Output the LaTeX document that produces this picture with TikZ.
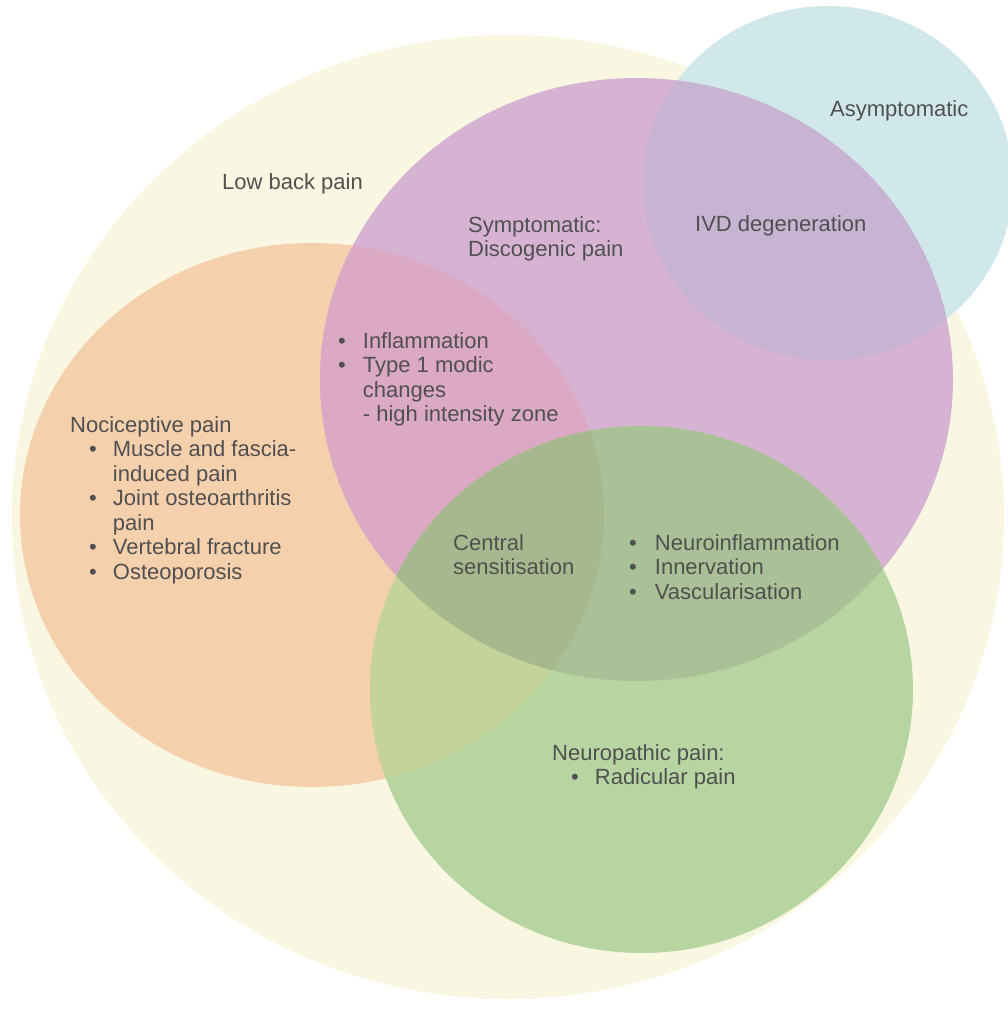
\documentclass[tikz,border=0pt]{standalone}
\usepackage{fontspec}
\setmainfont{Liberation Sans}
\usepackage{xcolor}
\usepackage{tikz}

\definecolor{lbpfill}{HTML}{F9F7E1}
\definecolor{ascfill}{HTML}{D0E8EA}
\definecolor{nocfill}{HTML}{F5D0AC}
\definecolor{dgpfill}{HTML}{D6B3D3}
\definecolor{npfill}{HTML}{B6D5A0}
\definecolor{dgpasc}{HTML}{C6B4D2}
\definecolor{nocdgp}{HTML}{DBA9C3}
\definecolor{nocnp}{HTML}{C5D39A}
\definecolor{dgpnp}{HTML}{AAC097}
\definecolor{allthree}{HTML}{A8B88E}
\definecolor{txtgray}{HTML}{505050}

% the sets
\newcommand{\lbparea}{(508,517) ellipse [x radius=496, y radius=482]}
\newcommand{\ascarea}{(828,183) ellipse [x radius=185, y radius=177]}
\newcommand{\nocarea}{(312,515) ellipse [x radius=292, y radius=272]}
\newcommand{\dgparea}{(636.5,379.5) ellipse [x radius=316.5, y radius=301.5]}
\newcommand{\nparea}{(641.5,689.5) ellipse [x radius=271.5, y radius=263.5]}

\tikzset{
  lbl/.style={anchor=base west, inner sep=0pt, text=txtgray,
    font=\fontsize{22}{24.5}\selectfont},
}

\begin{document}
\begin{tikzpicture}[x=1pt, y=-1pt]
    \useasboundingbox (0,0) rectangle (1008,1009);

    \fill[lbpfill] \lbparea;
    \fill[ascfill] \ascarea;
    \fill[nocfill] \nocarea;
    \fill[dgpfill] \dgparea;

    % overlaps
    \begin{scope}
        \clip \dgparea;
        \fill[dgpasc] \ascarea;
    \end{scope}
    \begin{scope}
        \clip \nocarea;
        \fill[nocdgp] \dgparea;
    \end{scope}

    \fill[npfill] \nparea;
    \begin{scope}
        \clip \nparea;
        \fill[nocnp] \nocarea;
        \fill[dgpnp] \dgparea;
        \clip \nocarea;
        \fill[allthree] \dgparea;
    \end{scope}

    % labels
    \node[lbl] (lbp) at (222,189) {Low back pain};
    \node[lbl] (asc) at (830,116) {Asymptomatic};
    \node[lbl] (dgp) at (468,232) {\begin{tabular}[t]{@{}l@{}}Symptomatic:\\Discogenic pain\end{tabular}};
    \node[lbl] (ivd) at (695,231) {IVD degeneration};
    \node[lbl] (infl) at (338,348) {\begin{tabular}[t]{@{}c@{\hspace{17pt}}l@{}}
        \textbullet & Inflammation\\
        \textbullet & Type 1 modic\\
                    & changes\\
                    & - high intensity zone
    \end{tabular}};
    \node[lbl] (noc) at (70,432) {\begin{tabular}[t]{@{\hspace{19pt}}c@{\hspace{16pt}}l@{}}
        \multicolumn{2}{@{}l@{}}{Nociceptive pain}\\
        \textbullet & Muscle and fascia-\\
                    & induced pain\\
        \textbullet & Joint osteoarthritis\\
                    & pain\\
        \textbullet & Vertebral fracture\\
        \textbullet & Osteoporosis
    \end{tabular}};
    \node[lbl] (cs) at (453,550) {\begin{tabular}[t]{@{}l@{}}Central\\sensitisation\end{tabular}};
    \node[lbl] (neuro) at (629,550) {\begin{tabular}[t]{@{}c@{\hspace{18pt}}l@{}}
        \textbullet & Neuroinflammation\\
        \textbullet & Innervation\\
        \textbullet & Vascularisation
    \end{tabular}};
    \node[lbl] (np) at (552,760) {\begin{tabular}[t]{@{\hspace{19pt}}c@{\hspace{16pt}}l@{}}
        \multicolumn{2}{@{}l@{}}{Neuropathic pain:}\\
        \textbullet & Radicular pain
    \end{tabular}};

\end{tikzpicture}
\end{document}
